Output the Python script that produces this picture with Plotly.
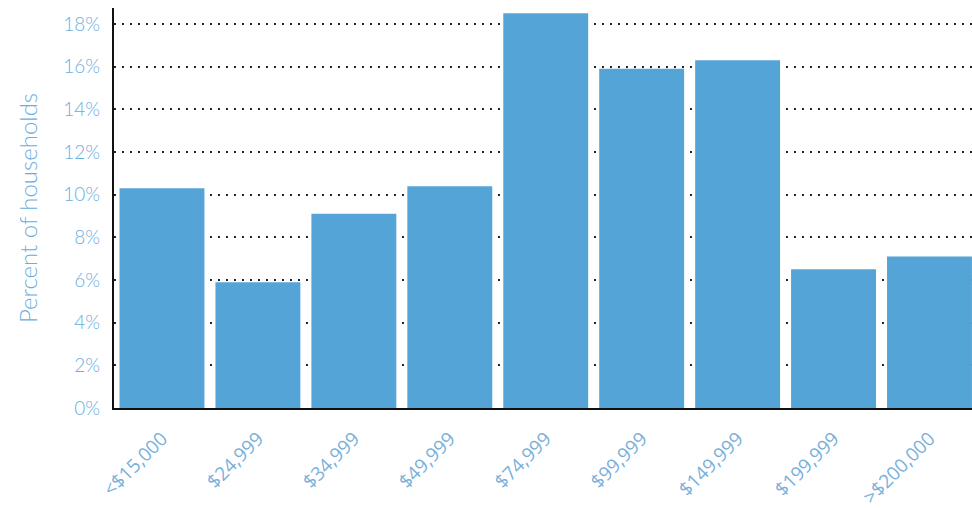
import plotly.graph_objects as go

# Household income distribution
income_brackets = ["<$15,000", "$24,999", "$34,999", "$49,999", "$74,999",
                   "$99,999", "$149,999", "$199,999", ">$200,000"]
pct_households = [10.3, 5.9, 9.1, 10.4, 18.5, 15.9, 16.3, 6.5, 7.1]
y_ticks = [0, 2, 4, 6, 8, 10, 12, 14, 16, 18]
y_tick_text = [f"{v}%" for v in y_ticks]

bar_color = "#55a4d8"
label_color = "#6aade0"
xlabel_color = "#78b0dc"

fig = go.Figure(
    go.Bar(
        x=list(range(len(income_brackets))),
        y=pct_households,
        marker=dict(color=bar_color, line=dict(width=0)),
        hoverinfo="skip",
    )
)

fig.update_layout(
    width=972,
    height=508,
    margin=dict(l=114, r=0, t=8, b=100),
    paper_bgcolor="white",
    plot_bgcolor="white",
    bargap=0.115,
    showlegend=False,
    font=dict(family="Lato, 'Open Sans', sans-serif", color=label_color),
)

fig.update_xaxes(
    tickmode="array",
    tickvals=list(range(len(income_brackets))),
    ticktext=income_brackets,
    tickangle=-45,
    tickfont=dict(size=19, color=xlabel_color, family="'Open Sans', sans-serif"),
    range=[-0.5, 8.443],
    showgrid=False,
    showline=True,
    linecolor="#111111",
    linewidth=2,
    ticks="",
    ticklabelstandoff=10,
    zeroline=False,
)

fig.update_yaxes(
    range=[0, 18.75],
    tickmode="array",
    tickvals=y_ticks,
    ticktext=y_tick_text,
    tickfont=dict(size=19, color=label_color, weight=300),
    showgrid=True,
    gridcolor="#222222",
    gridwidth=2,
    griddash="2px,6px",
    showline=True,
    linecolor="#111111",
    linewidth=2,
    ticks="",
    ticklabelstandoff=8,
    zeroline=False,
    title=dict(text="Percent of households",
               font=dict(size=24, color=label_color, weight=300), standoff=19),
)

fig.write_html("out.html")
